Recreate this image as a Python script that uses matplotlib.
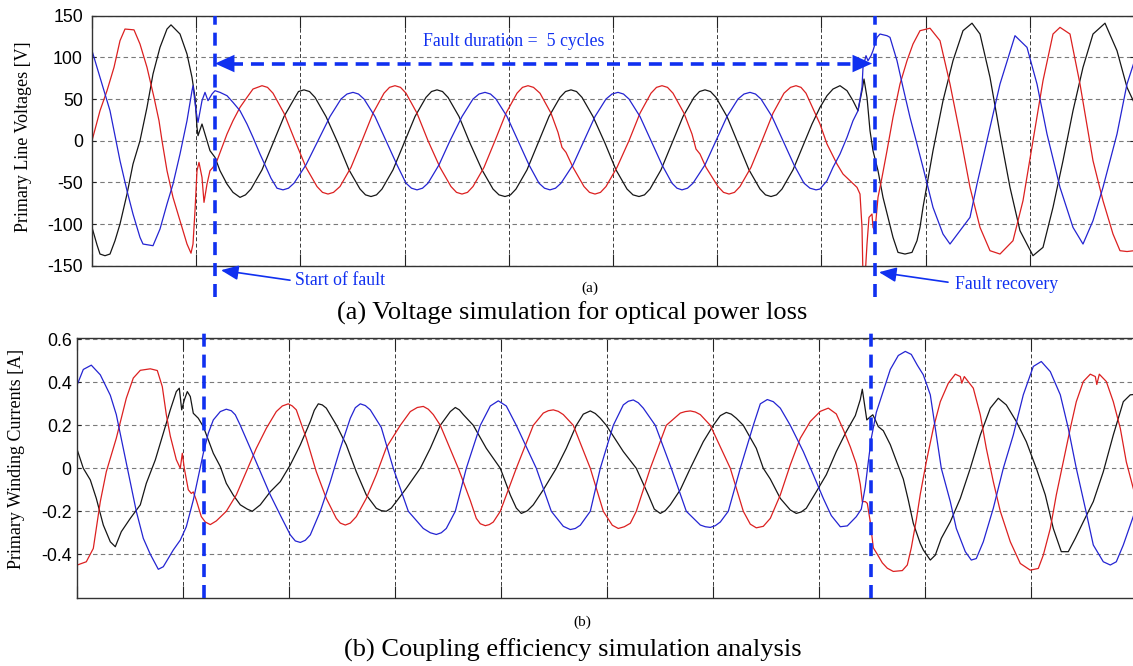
import numpy as np
import matplotlib
matplotlib.use("Agg")
import matplotlib.pyplot as plt

plt.rcParams['axes.unicode_minus'] = False

# ---- data: (sample, value) ----
# (a) primary line voltages [V], samples 0..1042
red_voltage = [(0, 0), (8, 36), (15, 60), (22, 88), (28, 120), (33, 134), (42, 133), (48, 116), (55, 88),
               (62, 52), (67, 24), (70, 0), (75, -36), (81, -68), (88, -96), (95, -124), (99, -135),
               (101, -124), (103, -84), (105, -36), (107, -26), (110, -44), (112, -74), (115, -52),
               (118, -36), (121, -32), (125, -24), (130, -8), (135, 8), (141, 24), (148, 40), (155, 52),
               (161, 62), (170, 66), (175.5, 64), (181, 57), (192, 33), (203, 0), (214, -32), (225, -55),
               (230.5, -62), (236, -64), (241.5, -62), (248, -55), (259, -32), (270, 0), (281, 33), (292, 57),
               (297.5, 64), (303, 66), (308.5, 64), (314, 57), (325, 33), (336, 0), (348, -32), (359, -55),
               (364.5, -62), (370, -64), (375.5, -62), (381, -55), (392, -32), (403, 0), (414, 33), (425, 57),
               (430.5, 64), (436, 66), (441.5, 64), (448, 57), (459, 33), (466, 10), (470, -8), (474, -14),
               (481, -32), (492, -55), (497.5, -62), (503, -64), (508.5, -62), (514, -55), (525, -32),
               (537, 0), (548, 33), (559, 57), (564.5, 64), (570, 66), (575.5, 64), (581, 57), (592, 33),
               (600, 8), (604, -10), (608, -16), (614, -32), (626, -55), (631.5, -62), (637, -64),
               (642.5, -62), (648, -55), (659, -32), (670, 0), (681, 33), (692, 57), (698.5, 64), (704, 66),
               (709, 64), (714, 57), (722, 36), (728, 20), (735, -4), (740, -16), (745, -28), (751, -40),
               (758, -48), (765, -56), (768, -64), (770, -104), (771, -165), (773, -165), (775, -124),
               (777, -92), (780, -88), (781, -104), (783, -108), (786, -68), (790, -44), (795, -12), (801, 28),
               (808, 68), (815, 96), (821, 116), (828, 132), (838, 135), (848, 120), (858, 68), (868, 8),
               (878, -56), (888, -104), (898, -132), (908, -136), (921, -120), (931, -72), (941, 0), (951, 72),
               (961, 128), (968, 136), (978, 128), (988, 68), (1001, -24), (1011, -72), (1021, -112),
               (1028, -132), (1035, -133), (1042, -132)]

black_voltage = [(0, -104), (5, -125), (8, -136), (13, -138), (18, -136), (23, -120), (28, -100), (35, -64),
                 (41, -28), (48, 0), (55, 40), (61, 80), (68, 112), (75, 134), (79, 139), (88, 128), (95, 104),
                 (100, 76), (103, 52), (105, 16), (106, 6), (110, 20), (113, 8), (118, -12), (123, -20),
                 (128, -36), (135, -52), (141, -62), (148, -68), (153.5, -65), (159, -58), (170, -35),
                 (181, -3), (192, 29), (203, 52), (206.5, 59), (212, 61), (217.5, 59), (223, 52), (234, 29),
                 (246, -3), (257, -35), (268, -58), (273.5, -65), (279, -67), (284.5, -65), (290, -58),
                 (301, -35), (312, -3), (323, 29), (334, 52), (339.5, 59), (345, 61), (350.5, 59), (356, 52),
                 (367, 29), (378, -3), (390, -35), (401, -58), (407, -65), (413, -67), (418.5, -65),
                 (424, -58), (435, -35), (446, -3), (457, 29), (468, 52), (473.5, 59), (479, 61), (484.5, 59),
                 (490, 52), (501, 29), (513, -3), (524, -35), (535, -58), (541, -65), (547, -67),
                 (552.5, -65), (558, -58), (569, -35), (580, -3), (591, 29), (602, 52), (607.5, 59), (613, 61),
                 (618.5, 59), (624, 52), (635, 29), (646, -3), (657, -35), (668, -58), (673.5, -65),
                 (679, -67), (684.5, -65), (690, -58), (701, -35), (712, -3), (720, 20), (728, 40), (735, 54),
                 (741, 62), (748, 66), (755, 60), (761, 48), (766, 36), (770, 60), (772, 74), (775, 52),
                 (778, 12), (781, -12), (786, -36), (791, -68), (796, -92), (801, -116), (806, -134),
                 (813, -136), (820, -134), (825, -120), (828, -104), (831, -80), (841, -12), (851, 48),
                 (861, 96), (871, 132), (880, 141), (888, 128), (898, 76), (908, 8), (918, -56), (928, -108),
                 (941, -138), (951, -128), (961, -80), (971, -24), (981, 36), (991, 88), (1001, 128),
                 (1013, 141), (1025, 108), (1035, 64), (1042, 46)]

blue_voltage = [(0, 108), (8, 76), (18, 36), (28, -24), (35, -60), (41, -88), (48, -116), (51, -124), (61, -126),
                (68, -106), (75, -76), (81, -52), (88, -16), (95, 24), (100, 60), (101, 66), (104, 36), (106, 22),
                (110, 48), (113, 58), (116, 48), (120, 56), (123, 60), (128, 58), (135, 54), (141, 46), (148, 36),
                (155, 20), (161, 4), (168, -16), (179, -45), (185, -57), (191, -59), (196.5, -57), (202, -51),
                (214, -29), (226, 0), (238, 29), (249, 50), (255, 56), (261, 58), (266.5, 56), (272, 50),
                (283, 29), (294, 0), (305, -29), (314, -51), (319.5, -57), (325, -59), (330.5, -57), (336, -51),
                (347, -29), (358, 0), (370, 29), (381, 50), (387, 56), (393, 58), (398.5, 56), (404, 50),
                (415, 29), (426, 0), (437, -29), (447, -51), (452.5, -57), (458, -59), (463.5, -57), (469, -51),
                (481, -29), (492, 0), (503, 29), (514, 50), (520, 56), (526, 58), (531.5, 56), (537, 50),
                (548, 29), (559, 0), (570, -29), (580, -51), (585, -57), (590, -59), (595.5, -57), (601, -51),
                (613, -29), (624, 0), (635, 29), (646, 50), (652, 56), (658, 58), (663.5, 56), (669, 50),
                (680, 29), (691, 0), (702, -29), (712, -51), (718, -57), (724, -59), (728, -58), (735, -48),
                (741, -32), (748, -16), (755, 4), (761, 24), (766, 36), (770, 64), (771, 88), (774, 102),
                (776, 96), (779, 102), (781, 108), (785, 124), (788, 128), (795, 126), (798, 124), (805, 96),
                (811, 64), (818, 28), (825, -4), (831, -32), (841, -80), (851, -112), (858, -124), (868, -108),
                (878, -92), (885, -52), (895, 0), (908, 68), (923, 126), (935, 112), (945, 68), (955, 8),
                (968, -56), (981, -104), (991, -124), (1001, -96), (1011, -56), (1025, 8), (1035, 68),
                (1042, 94)]

# (b) primary winding currents [A], samples 0..1060
red_current = [(0, -0.45), (9, -0.435), (16, -0.373), (23, -0.155), (29, -0.016), (39, 0.14), (49, 0.326),
               (56, 0.42), (63, 0.456), (73, 0.463), (80, 0.455), (85, 0.38), (89, 0.25), (93, 0.15),
               (99, 0.04), (103, 0.0), (105, 0.07), (107, 0.0), (111, -0.10), (114, -0.117), (116, -0.11),
               (119, -0.148), (124, -0.225), (128, -0.25), (133, -0.262), (139, -0.245), (149, -0.20),
               (159, -0.124), (169, -0.016), (179, 0.093), (189, 0.186), (199, 0.264), (205, 0.29),
               (211, 0.30), (215, 0.29), (219, 0.272), (229, 0.14), (239, -0.016), (249, -0.14),
               (259, -0.233), (263, -0.255), (268, -0.264), (273, -0.255), (279, -0.225), (289, -0.14),
               (299, -0.03), (309, 0.096), (323, 0.2), (333, 0.264), (340, 0.283), (346, 0.288), (351, 0.275),
               (356, 0.25), (363, 0.2), (381, 0.0), (393, -0.15), (399, -0.233), (403, -0.258), (408, -0.267),
               (412, -0.262), (416, -0.25), (423, -0.2), (439, 0.0), (456, 0.2), (466, 0.257), (471, 0.268),
               (476, 0.272), (481, 0.265), (486, 0.25), (496, 0.2), (513, 0.0), (526, -0.2), (535, -0.265),
               (541, -0.28), (547, -0.272), (553, -0.256), (559, -0.2), (573, 0.0), (589, 0.2), (603, 0.257),
               (608, 0.264), (613, 0.267), (618, 0.262), (623, 0.25), (633, 0.2), (653, 0.0), (666, -0.2),
               (673, -0.26), (679, -0.277), (686, -0.27), (693, -0.233), (703, -0.124), (713, 0.016),
               (723, 0.14), (733, 0.218), (743, 0.265), (751, 0.28), (759, 0.253), (766, 0.18), (773, 0.1),
               (779, 0.02), (783, -0.075), (785, -0.155), (788, -0.155), (790, -0.163), (793, -0.25),
               (796, -0.37), (800, -0.40), (805, -0.44), (810, -0.465), (816, -0.48), (825, -0.476),
               (830, -0.45), (834, -0.37), (839, -0.24), (843, -0.12), (849, 0.03), (856, 0.186), (863, 0.31),
               (871, 0.396), (878, 0.438), (883, 0.427), (884.5, 0.396), (887, 0.427), (896, 0.373),
               (903, 0.249), (909, 0.093), (916, -0.062), (923, -0.2), (933, -0.342), (943, -0.443),
               (953, -0.474), (961, -0.466), (966, -0.404), (973, -0.28), (979, -0.124), (986, 0.03),
               (993, 0.186), (999, 0.31), (1006, 0.404), (1013, 0.438), (1018, 0.427), (1019.5, 0.39),
               (1022, 0.438), (1029, 0.404), (1036, 0.31), (1043, 0.186), (1049, 0.03), (1056, -0.093),
               (1060, -0.17)]

black_current = [(0, 0.085), (6, 0.0), (13, -0.054), (19, -0.14), (26, -0.264), (33, -0.342), (38, -0.365),
                 (44, -0.295), (53, -0.233), (63, -0.17), (69, -0.07), (78, 0.039), (86, 0.163), (93, 0.272),
                 (99, 0.357), (102, 0.373), (104.4, 0.272), (107, 0.318), (110, 0.357), (113, 0.334),
                 (116, 0.256), (121, 0.233), (126, 0.194), (131, 0.132), (136, 0.07), (143, 0.008),
                 (149, -0.07), (156, -0.125), (163, -0.17), (170, -0.19), (175, -0.20), (183, -0.17),
                 (193, -0.109), (203, -0.062), (213, 0.016), (223, 0.109), (233, 0.218), (237, 0.27),
                 (241, 0.30), (245, 0.295), (249, 0.28), (259, 0.202), (269, 0.109), (279, -0.016),
                 (289, -0.124), (299, -0.186), (304, -0.197), (309, -0.2), (314, -0.185), (319, -0.155),
                 (329, -0.093), (343, 0.0), (353, 0.093), (363, 0.2), (373, 0.264), (378, 0.283), (382, 0.272),
                 (386, 0.25), (396, 0.2), (409, 0.093), (423, 0.0), (433, -0.124), (439, -0.185), (444, -0.21),
                 (450, -0.198), (456, -0.17), (466, -0.10), (479, 0.0), (489, 0.093), (499, 0.2), (506, 0.252),
                 (513, 0.267), (518, 0.255), (523, 0.233), (529, 0.2), (546, 0.078), (559, 0.0), (571, -0.124),
                 (577, -0.19), (583, -0.21), (588, -0.197), (593, -0.17), (603, -0.10), (613, 0.0), (626, 0.124),
                 (636, 0.2), (643, 0.245), (649, 0.26), (654, 0.252), (659, 0.233), (666, 0.2), (679, 0.093),
                 (686, 0.0), (693, -0.05), (703, -0.14), (713, -0.194), (719, -0.21), (724, -0.203),
                 (729, -0.186), (739, -0.109), (749, -0.03), (759, 0.078), (769, 0.171), (778, 0.245),
                 (783, 0.32), (785, 0.368), (787, 0.303), (789.5, 0.225), (793, 0.24), (795.5, 0.249),
                 (798, 0.225), (801, 0.194), (806, 0.175), (813, 0.11), (819, 0.035), (826, -0.05),
                 (831, -0.148), (836, -0.256), (843, -0.35), (846, -0.38), (853, -0.427), (858, -0.404),
                 (864, -0.326), (873, -0.249), (883, -0.14), (893, 0.0), (903, 0.155), (913, 0.28),
                 (921, 0.326), (929, 0.295), (939, 0.218), (949, 0.124), (959, 0.0), (968, -0.124),
                 (976, -0.28), (984, -0.388), (991, -0.388), (998, -0.326), (1006, -0.249), (1016, -0.155),
                 (1026, -0.016), (1036, 0.155), (1046, 0.31), (1053, 0.342), (1060, 0.345)]

blue_current = [(0, 0.39), (6, 0.46), (14, 0.48), (23, 0.435), (33, 0.34), (39, 0.25), (46, 0.093), (53, -0.062),
                (59, -0.20), (66, -0.326), (73, -0.40), (81, -0.47), (86, -0.458), (96, -0.38), (103, -0.334),
                (109, -0.272), (116, -0.148), (121, -0.039), (126, 0.07), (131, 0.163), (136, 0.225),
                (143, 0.264), (149, 0.275), (154, 0.268), (158, 0.249), (163, 0.20), (173, 0.093),
                (183, -0.016), (193, -0.124), (203, -0.218), (213, -0.31), (218, -0.338), (223, -0.345),
                (228, -0.335), (233, -0.31), (243, -0.20), (253, -0.062), (263, 0.093), (273, 0.233),
                (278, 0.282), (283, 0.30), (288, 0.292), (293, 0.272), (304, 0.19), (316, 0.0), (331, -0.2),
                (346, -0.28), (353, -0.3), (359, -0.308), (364, -0.3), (369, -0.28), (378, -0.2), (389, 0.0),
                (403, 0.2), (413, 0.29), (421, 0.314), (429, 0.29), (439, 0.2), (459, 0.0), (474, -0.2),
                (486, -0.27), (493, -0.285), (498, -0.28), (503, -0.265), (513, -0.2), (523, 0.0), (536, 0.2),
                (546, 0.295), (551, 0.312), (556, 0.318), (561, 0.305), (566, 0.28), (578, 0.2), (594, 0.0),
                (609, -0.2), (623, -0.264), (628, -0.272), (633, -0.275), (638, -0.267), (643, -0.25),
                (651, -0.2), (663, 0.0), (676, 0.2), (683, 0.30), (690, 0.32), (696, 0.31), (703, 0.28),
                (713, 0.2), (726, 0.078), (736, -0.03), (746, -0.14), (754, -0.22), (763, -0.272),
                (770, -0.268), (779, -0.225), (784, -0.19), (788, -0.085), (791, 0.03), (794, 0.14), (799, 0.26),
                (806, 0.36), (813, 0.46), (821, 0.525), (828, 0.544), (834, 0.53), (840, 0.48), (846, 0.435),
                (853, 0.342), (858, 0.186), (864, 0.0), (873, -0.155), (879, -0.28), (888, -0.388),
                (894, -0.427), (899, -0.42), (906, -0.342), (916, -0.186), (926, 0.0), (936, 0.155),
                (946, 0.342), (956, 0.474), (964, 0.497), (973, 0.45), (983, 0.342), (991, 0.186), (999, 0.0),
                (1008, -0.186), (1016, -0.357), (1026, -0.435), (1033, -0.45), (1039, -0.435), (1046, -0.357),
                (1053, -0.264), (1060, -0.17)]

# fault start / recovery instants (samples) and arrow level
fault_top = (123, 783)
fault_bottom = (127, 794)
arrow_level = 92.6

v_ticks = [-150, -100, -50, 0, 50, 100, 150]
v_labels = ['-150', '-100', '-50', '0', '50', '100', '150']
i_ticks = [-0.4, -0.2, 0, 0.2, 0.4, 0.6]
i_labels = ['-0.4', '-0.2', '0', '0.2', '0.4', '0.6']

RED = '#dc2020'
BLUE = '#2424d2'
BLACK = '#161616'
MARK = '#1030f0'
SERIF = 'Liberation Serif'
SANS = 'Liberation Sans'

W, H = 1133, 666
fig = plt.figure(figsize=(W / 100, H / 100), dpi=100)
ax1 = fig.add_axes([92 / W, 1 - 265.7 / H, 1042 / W, 250 / H])
ax2 = fig.add_axes([77.3 / W, 1 - 598.3 / H, 1060 / W, 260 / H])


def style(ax, xmax, ylim, ticks, labels, pad):
    ax.set_xlim(0, xmax)
    ax.set_ylim(*ylim)
    ax.set_xticks(np.linspace(0, xmax, 11))
    ax.set_xticklabels([])
    ax.set_yticks(ticks)
    ax.set_yticklabels(labels, family=SANS, fontsize=12.8)
    ax.tick_params(axis='x', direction='in', length=8.5, width=0.8, top=True, color='#222222')
    ax.tick_params(axis='y', direction='in', length=3, width=0.8, right=True, pad=pad, color='#222222')
    ax.grid(axis='y', linestyle=(0, (4, 3)), color='#7a7a7a', linewidth=0.8)
    ax.grid(axis='x', linestyle=(0, (4, 2.5)), color='#3a3a3a', linewidth=0.7)
    for sp in ax.spines.values():
        sp.set_color('#333333')
        sp.set_linewidth(1.0)


def draw(ax, series):
    for pts, col in series:
        pts = sorted(pts)
        t, v = np.array(pts).T
        ax.plot(t, v, color=col, lw=0.9)


style(ax1, 1042, (-150, 150), v_ticks, v_labels, 6.5)
style(ax2, 1060, (-0.605, 0.605), i_ticks, i_labels, 4)
draw(ax1, [(black_voltage, BLACK), (red_voltage, RED), (blue_voltage, BLUE)])
draw(ax2, [(black_current, BLACK), (red_current, RED), (blue_current, BLUE)])

ax1.set_ylabel('Primary Line Voltages [V]', family=SERIF, fontsize=13, va='center')
ax1.yaxis.set_label_coords(-0.0653, 0.515)
ax2.set_ylabel('Primary Winding Currents [A]', family=SERIF, fontsize=13, va='center')
ax2.yaxis.set_label_coords(-0.0572, 0.536)

# fault markers
dash = (0, (3.6, 2.2))
for x in fault_top:
    ax1.axvline(x, ymin=-0.125, ymax=1.0, color=MARK, lw=2.6, ls=dash, clip_on=False, zorder=5)
for x in fault_bottom:
    ax2.axvline(x, ymin=0.0, ymax=1.045, color=MARK, lw=2.6, ls=dash, clip_on=False, zorder=5)

ax1.plot([fault_top[0] + 15, fault_top[1] - 15], [arrow_level, arrow_level], color=MARK, lw=2.6, ls=dash,
         zorder=5)
head = dict(arrowstyle='-|>,head_length=1.0,head_width=0.45', mutation_scale=14, color=MARK, lw=0,
            shrinkA=0, shrinkB=0)
ax1.annotate('', xy=(fault_top[0], arrow_level), xytext=(fault_top[0] + 20, arrow_level), arrowprops=head,
             zorder=6)
ax1.annotate('', xy=(fault_top[1] - 3, arrow_level), xytext=(fault_top[1] - 23, arrow_level), arrowprops=head,
             zorder=6)
ax1.text(422, 119.5, 'Fault duration =  5 cycles', color=MARK, family=SERIF, fontsize=12.8,
         ha='center', va='center')

thin = dict(arrowstyle='-|>,head_length=0.75,head_width=0.32', mutation_scale=14, color=MARK, lw=1.2,
            shrinkA=0, shrinkB=0)
ax1.annotate('', xy=(129, -155.4), xytext=(198, -167.4), arrowprops=thin, annotation_clip=False)
ax1.text(203, -167.4, 'Start of fault', color=MARK, family=SERIF, fontsize=12.8, ha='left', va='center',
         clip_on=False)
ax1.annotate('', xy=(787, -157.8), xytext=(856, -169.8), arrowprops=thin, annotation_clip=False)
ax1.text(863, -172.2, 'Fault recovery', color=MARK, family=SERIF, fontsize=12.8, ha='left', va='center',
         clip_on=False)

# panel tags and captions
fig.text(590 / W, 1 - 288 / H, '(a)', family=SERIF, fontsize=11, ha='center', va='center')
fig.text(582 / W, 1 - 622 / H, '(b)', family=SERIF, fontsize=11, ha='center', va='center')
fig.text(572 / W, 1 - 313 / H, '(a) Voltage simulation for optical power loss', family=SERIF, fontsize=19,
         ha='center', va='center')
fig.text(573 / W, 1 - 650 / H, '(b) Coupling efficiency simulation analysis', family=SERIF, fontsize=19,
         ha='center', va='center')

fig.savefig('out.png', dpi=100)
